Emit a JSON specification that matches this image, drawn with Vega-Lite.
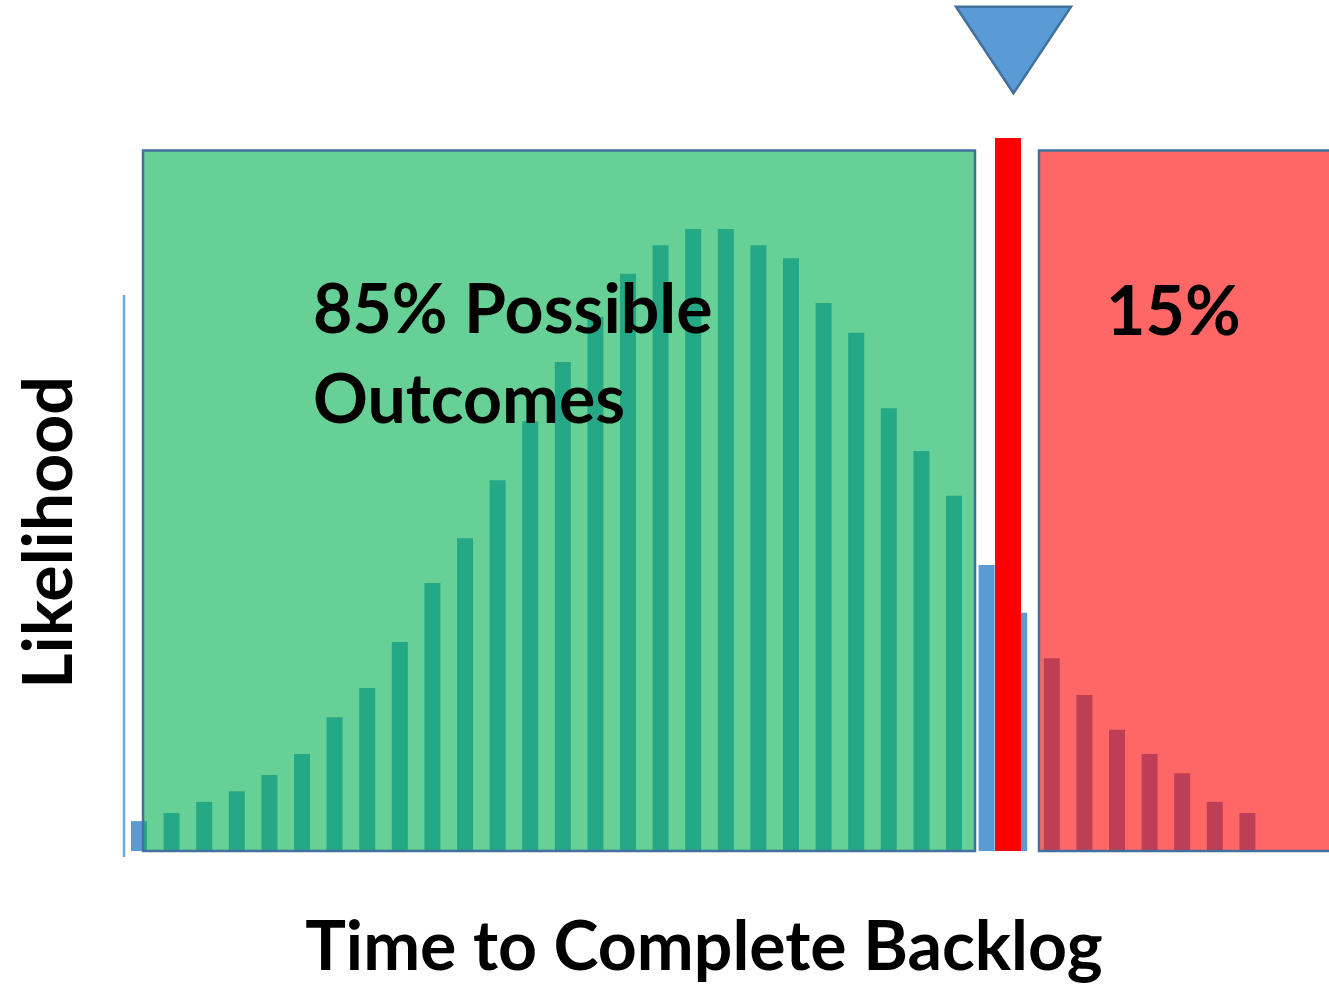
{
  "$schema": "https://vega.github.io/schema/vega-lite/v6.json",
  "width": 1329,
  "height": 984,
  "autosize": "none",
  "padding": 0,
  "background": "white",
  "config": {"view": {"stroke": null}},
  "datasets": {
    "bins": [
      {"bin": 0, "likelihood": 4.8},
      {"bin": 1, "likelihood": 6.1},
      {"bin": 2, "likelihood": 7.9},
      {"bin": 3, "likelihood": 9.6},
      {"bin": 4, "likelihood": 12.2},
      {"bin": 5, "likelihood": 15.6},
      {"bin": 6, "likelihood": 21.5},
      {"bin": 7, "likelihood": 26.2},
      {"bin": 8, "likelihood": 33.6},
      {"bin": 9, "likelihood": 43.1},
      {"bin": 10, "likelihood": 50.3},
      {"bin": 11, "likelihood": 59.6},
      {"bin": 12, "likelihood": 69.1},
      {"bin": 13, "likelihood": 78.6},
      {"bin": 14, "likelihood": 85.9},
      {"bin": 15, "likelihood": 92.8},
      {"bin": 16, "likelihood": 97.4},
      {"bin": 17, "likelihood": 100},
      {"bin": 18, "likelihood": 100},
      {"bin": 19, "likelihood": 97.4},
      {"bin": 20, "likelihood": 95.3},
      {"bin": 21, "likelihood": 88.1},
      {"bin": 22, "likelihood": 83.3},
      {"bin": 23, "likelihood": 71.2},
      {"bin": 24, "likelihood": 64.3},
      {"bin": 25, "likelihood": 57.1},
      {"bin": 26, "likelihood": 46.0},
      {"bin": 27, "likelihood": 38.3},
      {"bin": 28, "likelihood": 31.0},
      {"bin": 29, "likelihood": 25.1},
      {"bin": 30, "likelihood": 19.5},
      {"bin": 31, "likelihood": 15.6},
      {"bin": 32, "likelihood": 12.5},
      {"bin": 33, "likelihood": 7.9},
      {"bin": 34, "likelihood": 6.1}
    ],
    "zones": [
      {"zone": "possible", "start": 0.123, "end": 25.644, "bottom": 0, "top": 112.62, "color": "#00B050"},
      {"zone": "beyond", "start": 27.607, "end": 37.0, "bottom": 0, "top": 112.62, "color": "#FF0000"}
    ]
  },
  "layer": [
    {
      "data": {"values": [{"x": -0.46, "y": -0.96, "y2": 89.39}]},
      "mark": {"type": "rule", "color": "#6FA8DC", "strokeWidth": 2.5},
      "encoding": {
        "x": {"field": "x", "type": "quantitative", "scale": {"domain": [-4.264, 36.503], "nice": false, "zero": false, "padding": 0}, "axis": null},
        "y": {"field": "y", "type": "quantitative", "scale": {"domain": [-21.383, 136.817], "nice": false, "zero": false, "padding": 0}, "axis": null},
        "y2": {"field": "y2"}
      }
    },
    {
      "data": {"name": "bins"},
      "mark": {"type": "bar", "width": 16, "color": "#5B9BD5"},
      "encoding": {
        "x": {"field": "bin", "type": "quantitative", "scale": {"domain": [-4.264, 36.503], "nice": false, "zero": false, "padding": 0}, "axis": null},
        "y": {"field": "likelihood", "type": "quantitative", "scale": {"domain": [-21.383, 136.817], "nice": false, "zero": false, "padding": 0}, "axis": null}
      }
    },
    {
      "data": {"name": "zones"},
      "mark": {"type": "rect", "fillOpacity": 0.6, "stroke": "#41719C", "strokeWidth": 2.5},
      "encoding": {
        "x": {"field": "start", "type": "quantitative", "scale": {"domain": [-4.264, 36.503], "nice": false, "zero": false, "padding": 0}, "axis": null},
        "x2": {"field": "end"},
        "y": {"field": "bottom", "type": "quantitative", "scale": {"domain": [-21.383, 136.817], "nice": false, "zero": false, "padding": 0}, "axis": null},
        "y2": {"field": "top"},
        "fill": {"field": "color", "type": "nominal", "scale": null, "legend": null}
      }
    },
    {
      "data": {"values": [{"start": 26.258, "end": 27.055, "bottom": 0, "top": 114.63}]},
      "mark": {"type": "rect", "color": "#FF0000"},
      "encoding": {
        "x": {"field": "start", "type": "quantitative", "scale": {"domain": [-4.264, 36.503], "nice": false, "zero": false, "padding": 0}, "axis": null},
        "x2": {"field": "end"},
        "y": {"field": "bottom", "type": "quantitative", "scale": {"domain": [-21.383, 136.817], "nice": false, "zero": false, "padding": 0}, "axis": null},
        "y2": {"field": "top"}
      }
    },
    {
      "data": {"values": [{"x": 26.825, "y": 128.78}]},
      "mark": {"type": "point", "filled": true, "shape": "M-1,-0.752L1,-0.752L0,0.752Z", "size": 13225, "fill": "#5B9BD5", "fillOpacity": 1, "stroke": "#41719C", "strokeWidth": 2.5, "opacity": 1},
      "encoding": {
        "x": {"field": "x", "type": "quantitative", "scale": {"domain": [-4.264, 36.503], "nice": false, "zero": false, "padding": 0}, "axis": null},
        "y": {"field": "y", "type": "quantitative", "scale": {"domain": [-21.383, 136.817], "nice": false, "zero": false, "padding": 0}, "axis": null}
      }
    },
    {
      "data": {"values": [
        {"x": 5.337, "y": 83.28, "label": "85% Possible"},
        {"x": 5.337, "y": 68.81, "label": "Outcomes"},
        {"x": 29.663, "y": 82.96, "label": "15%"}
      ]},
      "mark": {"type": "text", "align": "left", "baseline": "alphabetic", "font": "Lato", "fontWeight": "bold", "fontSize": 68, "color": "black"},
      "encoding": {
        "x": {"field": "x", "type": "quantitative", "scale": {"domain": [-4.264, 36.503], "nice": false, "zero": false, "padding": 0}, "axis": null},
        "y": {"field": "y", "type": "quantitative", "scale": {"domain": [-21.383, 136.817], "nice": false, "zero": false, "padding": 0}, "axis": null},
        "text": {"field": "label"}
      }
    },
    {
      "data": {"values": [{"x": 17.331, "y": -19.13, "label": "Time to Complete Backlog"}]},
      "mark": {"type": "text", "align": "center", "baseline": "alphabetic", "font": "Lato", "fontWeight": "bold", "fontSize": 68, "color": "black"},
      "encoding": {
        "x": {"field": "x", "type": "quantitative", "scale": {"domain": [-4.264, 36.503], "nice": false, "zero": false, "padding": 0}, "axis": null},
        "y": {"field": "y", "type": "quantitative", "scale": {"domain": [-21.383, 136.817], "nice": false, "zero": false, "padding": 0}, "axis": null},
        "text": {"field": "label"}
      }
    },
    {
      "data": {"values": [{"x": -2.055, "y": 51.21, "label": "Likelihood"}]},
      "mark": {"type": "text", "align": "center", "baseline": "alphabetic", "angle": 270, "font": "Lato", "fontWeight": "bold", "fontSize": 68, "color": "black"},
      "encoding": {
        "x": {"field": "x", "type": "quantitative", "scale": {"domain": [-4.264, 36.503], "nice": false, "zero": false, "padding": 0}, "axis": null},
        "y": {"field": "y", "type": "quantitative", "scale": {"domain": [-21.383, 136.817], "nice": false, "zero": false, "padding": 0}, "axis": null},
        "text": {"field": "label"}
      }
    }
  ]
}
